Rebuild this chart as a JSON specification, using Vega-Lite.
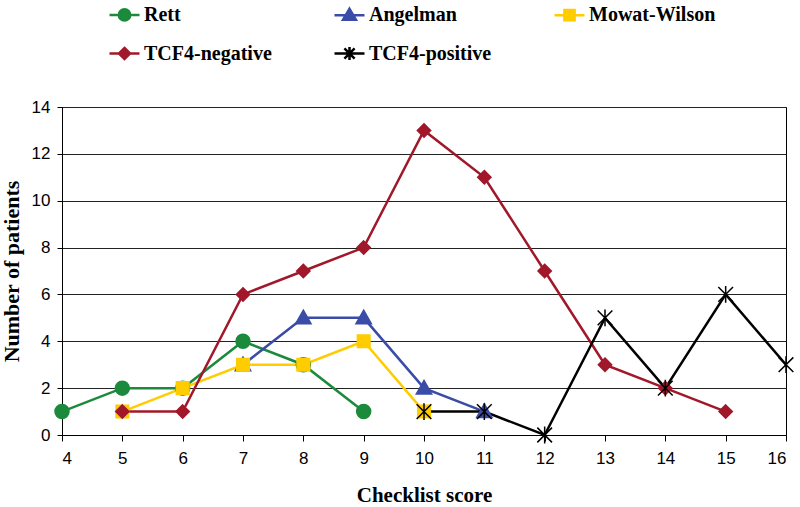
{
  "$schema": "https://vega.github.io/schema/vega-lite/v6.json",
  "width": 724,
  "height": 328,
  "autosize": "none",
  "padding": {"left": 62, "top": 107, "right": 14, "bottom": 72},
  "background": "white",
  "data": {
    "values": [
      {"series": "Rett", "score": 4, "patients": 1},
      {"series": "Rett", "score": 5, "patients": 2},
      {"series": "Rett", "score": 6, "patients": 2},
      {"series": "Rett", "score": 7, "patients": 4},
      {"series": "Rett", "score": 8, "patients": 3},
      {"series": "Rett", "score": 9, "patients": 1},
      {"series": "Angelman", "score": 7, "patients": 3},
      {"series": "Angelman", "score": 8, "patients": 5},
      {"series": "Angelman", "score": 9, "patients": 5},
      {"series": "Angelman", "score": 10, "patients": 2},
      {"series": "Angelman", "score": 11, "patients": 1},
      {"series": "Mowat-Wilson", "score": 5, "patients": 1},
      {"series": "Mowat-Wilson", "score": 6, "patients": 2},
      {"series": "Mowat-Wilson", "score": 7, "patients": 3},
      {"series": "Mowat-Wilson", "score": 8, "patients": 3},
      {"series": "Mowat-Wilson", "score": 9, "patients": 4},
      {"series": "Mowat-Wilson", "score": 10, "patients": 1},
      {"series": "TCF4-negative", "score": 5, "patients": 1},
      {"series": "TCF4-negative", "score": 6, "patients": 1},
      {"series": "TCF4-negative", "score": 7, "patients": 6},
      {"series": "TCF4-negative", "score": 8, "patients": 7},
      {"series": "TCF4-negative", "score": 9, "patients": 8},
      {"series": "TCF4-negative", "score": 10, "patients": 13},
      {"series": "TCF4-negative", "score": 11, "patients": 11},
      {"series": "TCF4-negative", "score": 12, "patients": 7},
      {"series": "TCF4-negative", "score": 13, "patients": 3},
      {"series": "TCF4-negative", "score": 14, "patients": 2},
      {"series": "TCF4-negative", "score": 15, "patients": 1},
      {"series": "TCF4-positive", "score": 10, "patients": 1},
      {"series": "TCF4-positive", "score": 11, "patients": 1},
      {"series": "TCF4-positive", "score": 12, "patients": 0},
      {"series": "TCF4-positive", "score": 13, "patients": 5},
      {"series": "TCF4-positive", "score": 14, "patients": 2},
      {"series": "TCF4-positive", "score": 15, "patients": 6},
      {"series": "TCF4-positive", "score": 16, "patients": 3}
    ]
  },
  "encoding": {
    "x": {
      "field": "score", "type": "quantitative",
      "scale": {"domain": [4, 16], "nice": false, "zero": false},
      "axis": {
        "title": "Checklist score",
        "values": [4, 5, 6, 7, 8, 9, 10, 11, 12, 13, 14, 15, 16],
        "grid": false,
        "labelFont": "Liberation Sans", "labelFontSize": 17, "labelColor": "#000",
        "labelPadding": 9, "tickSize": 6, "tickColor": "#000", "domainColor": "#000",
        "titleFont": "Liberation Serif", "titleFontWeight": "bold", "titleFontSize": 21,
        "titleColor": "#000", "titlePadding": 18
      }
    },
    "y": {
      "field": "patients", "type": "quantitative",
      "scale": {"domain": [0, 14], "nice": false},
      "axis": {
        "title": "Number of patients",
        "values": [0, 2, 4, 6, 8, 10, 12, 14],
        "grid": true, "gridColor": "#222", "gridWidth": 1, "gridOpacity": 1,
        "labelFont": "Liberation Sans", "labelFontSize": 17, "labelColor": "#000",
        "labelPadding": 7, "tickSize": 5, "tickColor": "#000", "domainColor": "#000",
        "titleFont": "Liberation Serif", "titleFontWeight": "bold", "titleFontSize": 22,
        "titleColor": "#000", "titlePadding": 8
      }
    }
  },
  "resolve": {"scale": {"shape": "independent"}, "legend": {"shape": "independent"}},
  "layer": [
    {
      "mark": {"type": "line"},
      "encoding": {
        "color": {
          "field": "series", "type": "nominal",
          "scale": {
            "domain": ["Rett", "Angelman", "Mowat-Wilson", "TCF4-negative", "TCF4-positive"],
            "range": ["#1c8a3c", "#3a4ca8", "#ffcc00", "#a0182a", "#000000"]
          },
          "legend": {
            "title": null, "orient": "none", "legendX": 46, "legendY": -109,
            "columns": 3, "direction": "horizontal", "columnPadding": 57, "rowPadding": 11,
            "padding": 0, "symbolSize": 900, "labelOffset": 3,
            "labelFont": "Liberation Serif", "labelFontWeight": "bold", "labelFontSize": 20, "labelColor": "#000",
            "encode": {
              "symbols": {
                "update": {
                  "shape": {"signal": "datum.value === 'Rett' ? 'M-1,0H1M-0.38,0A0.38,0.38,0,1,1,0.38,0A0.38,0.38,0,1,1,-0.38,0Z' : datum.value === 'Angelman' ? 'M-1,0H1M0,-0.43L0.43,0.3L-0.43,0.3Z' : datum.value === 'Mowat-Wilson' ? 'M-1,0H1M-0.34,-0.34H0.34V0.34H-0.34Z' : datum.value === 'TCF4-negative' ? 'M-1,0H1M0,-0.37L0.37,0L0,0.37L-0.37,0Z' : 'M-1,0H1M-0.34,-0.34L0.34,0.34M-0.34,0.34L0.34,-0.34M0,-0.43V0.43'"},
                  "stroke": {"signal": "scale('color', datum.value)"},
                  "fill": {"signal": "scale('color', datum.value)"},
                  "strokeWidth": {"signal": "datum.value === 'Mowat-Wilson' ? 3.5 : 2"},
                  "opacity": {"value": 1}
                }
              }
            }
          }
        },
        "strokeWidth": {
          "field": "series", "type": "nominal",
          "scale": {
            "domain": ["Rett", "Angelman", "Mowat-Wilson", "TCF4-negative", "TCF4-positive"],
            "range": [2.5, 2.5, 4, 2.5, 2.5]
          },
          "legend": null
        }
      }
    },
    {
      "mark": {"type": "point", "filled": true, "size": 196, "strokeWidth": 1.5, "opacity": 1},
      "encoding": {
        "color": {
          "field": "series", "type": "nominal",
          "legend": {
            "title": null, "orient": "none", "legendX": 46, "legendY": -109,
            "columns": 3, "direction": "horizontal", "columnPadding": 57, "rowPadding": 11,
            "padding": 0, "symbolSize": 900, "labelOffset": 3,
            "labelFont": "Liberation Serif", "labelFontWeight": "bold", "labelFontSize": 20, "labelColor": "#000",
            "encode": {
              "symbols": {
                "update": {
                  "shape": {"signal": "datum.value === 'Rett' ? 'M-1,0H1M-0.38,0A0.38,0.38,0,1,1,0.38,0A0.38,0.38,0,1,1,-0.38,0Z' : datum.value === 'Angelman' ? 'M-1,0H1M0,-0.43L0.43,0.3L-0.43,0.3Z' : datum.value === 'Mowat-Wilson' ? 'M-1,0H1M-0.34,-0.34H0.34V0.34H-0.34Z' : datum.value === 'TCF4-negative' ? 'M-1,0H1M0,-0.37L0.37,0L0,0.37L-0.37,0Z' : 'M-1,0H1M-0.34,-0.34L0.34,0.34M-0.34,0.34L0.34,-0.34M0,-0.43V0.43'"},
                  "stroke": {"signal": "scale('color', datum.value)"},
                  "fill": {"signal": "scale('color', datum.value)"},
                  "strokeWidth": {"signal": "datum.value === 'Mowat-Wilson' ? 3.5 : 2"},
                  "opacity": {"value": 1}
                }
              }
            }
          }
        },
        "stroke": {
          "field": "series", "type": "nominal",
          "scale": {
            "domain": ["Rett", "Angelman", "Mowat-Wilson", "TCF4-negative", "TCF4-positive"],
            "range": ["#1c8a3c", "#3a4ca8", "#ffcc00", "#a0182a", "#000000"]
          },
          "legend": null
        },
        "shape": {
          "field": "series", "type": "nominal",
          "scale": {
            "domain": ["Rett", "Angelman", "Mowat-Wilson", "TCF4-negative", "TCF4-positive"],
            "range": [
              "M-1,0A1,1,0,1,1,1,0A1,1,0,1,1,-1,0Z",
              "M0,-1.1L1.1,0.85L-1.1,0.85Z",
              "M-0.9,-0.9H0.9V0.9H-0.9Z",
              "M0,-0.95L0.95,0L0,0.95L-0.95,0Z",
              "M-1.05,-1.05L1.05,1.05M-1.05,1.05L1.05,-1.05M0,-1.2V1.2"
            ]
          },
          "legend": null
        }
      }
    }
  ],
  "config": {
    "view": {"stroke": "#000", "strokeWidth": 1},
    "axis": {"labelFontWeight": "normal"}
  }
}
